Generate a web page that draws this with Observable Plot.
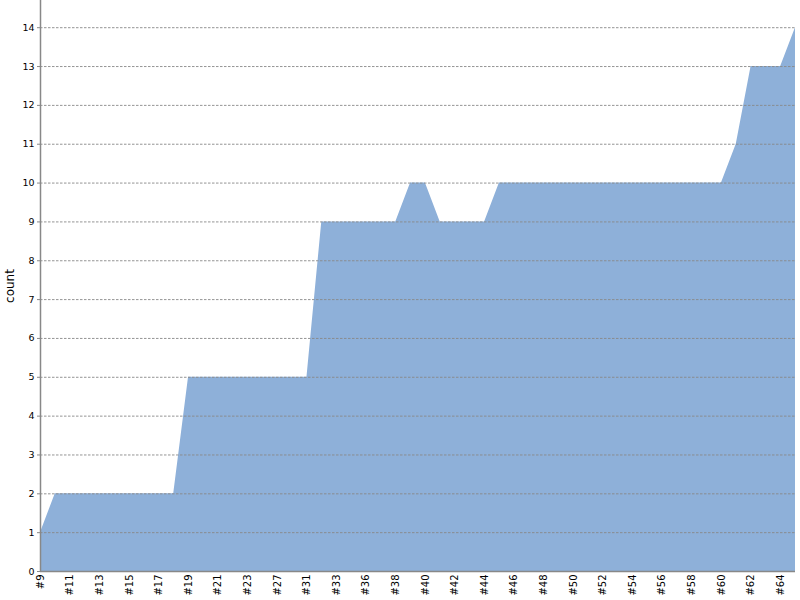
<!DOCTYPE html>
<html>
<head>
<meta charset="utf-8">
<script src="https://cdn.jsdelivr.net/npm/d3@7"></script>
<script src="https://cdn.jsdelivr.net/npm/@observablehq/plot@0.6"></script>
<style>
  html, body { margin: 0; padding: 0; background: #fff; }
  #chart { width: 800px; height: 600px; overflow: hidden; }
</style>
</head>
<body>
<div id="chart"></div>
<script>
const categories = [
  "#9","#10","#11","#12","#13","#14","#15","#16","#17","#18",
  "#19","#20","#21","#22","#23","#25","#27","#29","#31","#32",
  "#33","#34","#36","#37","#38","#39","#40","#41","#42","#43",
  "#44","#45","#46","#47","#48","#49","#50","#51","#52","#53",
  "#54","#55","#56","#57","#58","#59","#60","#61","#62","#63",
  "#64","#65"
];
const counts = [
  1, 2, 2, 2, 2, 2, 2, 2, 2, 2,
  5, 5, 5, 5, 5, 5, 5, 5, 5, 9,
  9, 9, 9, 9, 9, 10, 10, 9, 9, 9,
  9, 10, 10, 10, 10, 10, 10, 10, 10, 10,
  10, 10, 10, 10, 10, 10, 10, 11, 13, 13,
  13, 14
];
const yTicks = [0,1,2,3,4,5,6,7,8,9,10,11,12,13,14];
const xTickLabels = categories.filter((d, i) => i % 2 === 0);

const data = categories.map((c, i) => ({cat: c, count: counts[i]}));

const chart = Plot.plot({
  width: 800,
  height: 600,
  marginLeft: 40,
  marginRight: 5,
  marginTop: 0,
  marginBottom: 29,
  style: {fontFamily: "DejaVu Sans", background: "#fff", color: "#000"},
  x: {type: "point", domain: categories, padding: 0},
  y: {domain: [0, 14.7]},
  marks: [
    Plot.areaY(data, {x: "cat", y: "count", fill: "#8eb0d9", curve: "linear"}),
    Plot.gridY(yTicks, {stroke: "#888", strokeOpacity: 0.9, strokeDasharray: "2.5,1.5"}),
    Plot.ruleY([0], {stroke: "#888", strokeWidth: 1.5}),
    Plot.ruleX([categories[0]], {stroke: "#888", strokeWidth: 1.5}),
    Plot.axisY({ticks: yTicks, tickSize: 3, tickPadding: 3, fontSize: 9.5, stroke: "#888", fill: "#000", label: null}),
    Plot.axisY({ticks: [], label: "count", labelAnchor: "center", labelArrow: "none", labelOffset: 35, fontSize: 12, fill: "#000"}),
    Plot.axisX({ticks: xTickLabels, tickSize: 0, tickPadding: 3, tickRotate: -90, fontSize: 10, fill: "#000", label: null})
  ]
});
document.getElementById("chart").appendChild(chart);
</script>
</body>
</html>
